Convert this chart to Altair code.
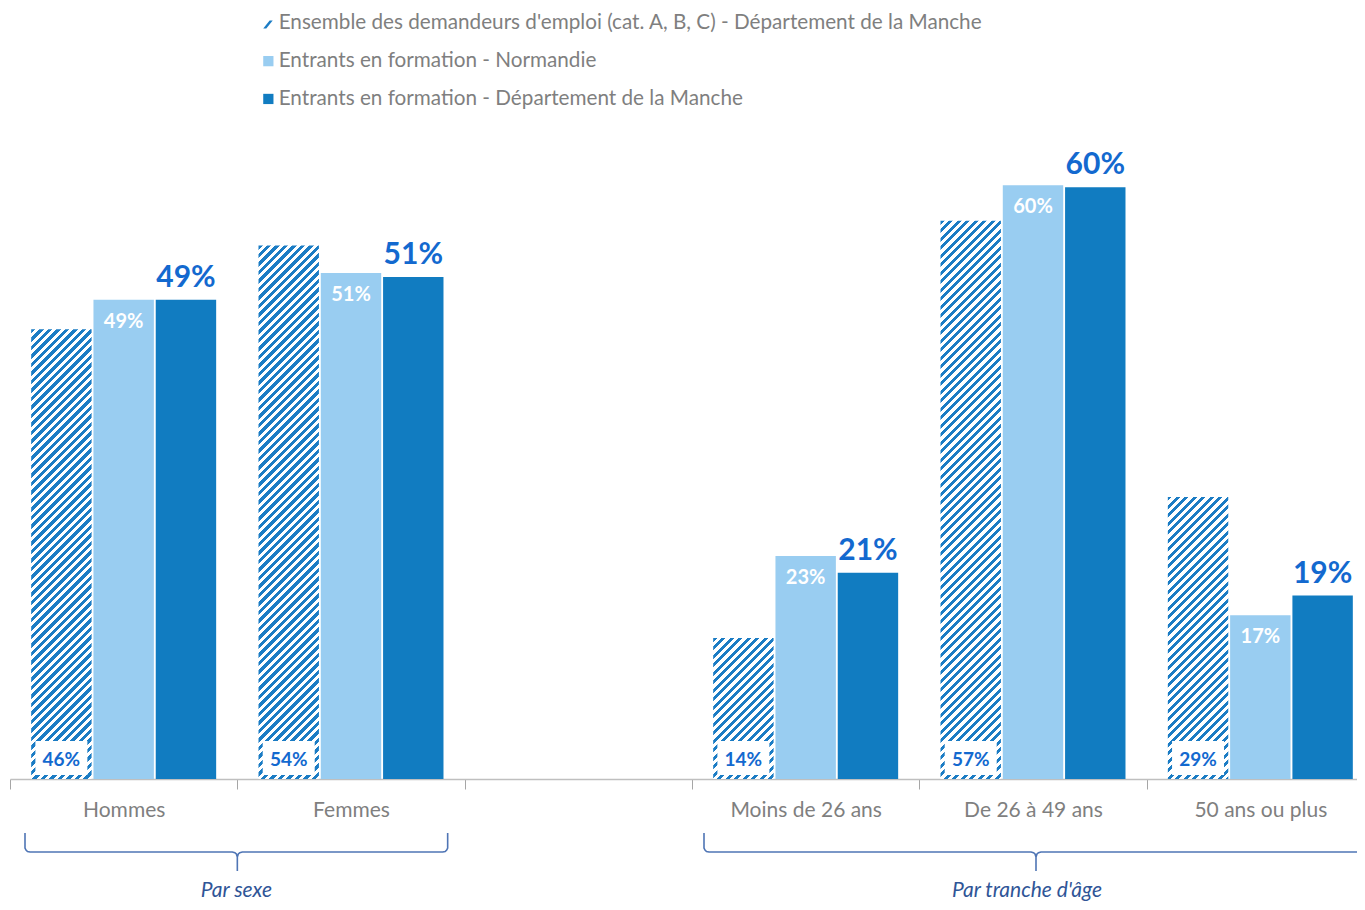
import altair as alt
import pandas as pd

# ---------------- data ----------------
categories = ["Hommes", "Femmes", " ", "Moins de 26 ans", "De 26 à 49 ans", "50 ans ou plus"]
groups = ["Hommes", "Femmes", "Moins de 26 ans", "De 26 à 49 ans", "50 ans ou plus"]
series = [
    "Ensemble des demandeurs d'emploi (cat. A, B, C) - Département de la Manche",
    "Entrants en formation - Normandie",
    "Entrants en formation - Département de la Manche",
]
ensemble = [45.6, 54.1, 14.3, 56.6, 28.6]
normandie = [48.6, 51.3, 22.6, 60.2, 16.6]
manche = [48.6, 50.9, 20.9, 60.0, 18.6]
group_labels = ["Par sexe", "Par tranche d'âge"]

# ---------------- style ----------------
FONT = "Lato"
HATCH_BLUE = "#1b7cc4"
LIGHT = "#99cdf1"
DARK = "#117cc1"
LABEL_BLUE = "#1369cf"
GRAY = "#7f7f7f"
BRACE = "#4f75b5"
GROUP_TXT = "#2f5597"

W_VIEW = 1347           # visible plot width (page ends at the window edge)
W = 1364                # x scale range (last band runs past the window edge)
H = 651
YMAX = 66
BAND = W / 6
PI, PO = 0.03, 0.34
STEP = BAND / (3 - PI + 2 * PO)
BARW = STEP * (1 - PI)
PERIOD = 8.5     # horizontal stripe period (px)
BLUE_FRAC = 0.5

rows = []
for s, vals in zip(series, [ensemble, normandie, manche]):
    for g, v in zip(groups, vals):
        rows.append({"cat": g, "series": s, "value": v})
df = pd.DataFrame(rows)

x_enc = alt.X(
    "cat:N",
    scale=alt.Scale(domain=categories, paddingInner=0, paddingOuter=0, range=[0, W]),
    axis=alt.Axis(
        title=None, labelAngle=0, labelFont=FONT, labelFontSize=21, labelColor=GRAY,
        domainColor="#bfbfbf", domainWidth=1.3, tickColor="#a6a6a6", tickSize=10,
        tickBand="extent", labelPadding=10,
    ),
)
xo_enc = alt.XOffset("series:N", scale=alt.Scale(domain=series, paddingInner=PI, paddingOuter=PO))
y_enc = alt.Y("value:Q", scale=alt.Scale(domain=[0, YMAX], nice=False), axis=None)

base = alt.Chart(df).transform_calculate(
    label="format(datum.value, '.0f') + '%'"
)

# legend (invisible points carrying the colour/shape legend)
SHAPES = ["M-1,1L0.25,-0.55L0.85,-0.55L-0.4,1Z", "square", "square"]
leg = alt.Legend(
    title=None, orient="none", legendX=248, legendY=-115, symbolOpacity=1,
    labelFont=FONT, labelFontSize=20.7, labelColor=GRAY, symbolSize=105,
    symbolStrokeWidth=0, rowPadding=15.8, labelOffset=0, labelLimit=1000,
)
legend_layer = base.mark_point(filled=True, opacity=0).encode(
    x=x_enc, xOffset=xo_enc, y=y_enc,
    color=alt.Color("series:N", scale=alt.Scale(domain=series, range=[HATCH_BLUE, LIGHT, DARK]), legend=leg),
    shape=alt.Shape("series:N", scale=alt.Scale(domain=series, range=SHAPES), legend=leg),
)

light_bars = base.transform_filter(alt.datum.series == series[1]).mark_bar(color=LIGHT).encode(
    x=x_enc, xOffset=xo_enc, y=y_enc)
dark_bars = base.transform_filter(alt.datum.series == series[2]).mark_bar(color=DARK).encode(
    x=x_enc, xOffset=xo_enc, y=y_enc)


def hatch(h):
    w = BARW
    k = (w + h) * w / (w * w + h * h)
    n = int((w + h) / PERIOD) + 2
    d = PERIOD / (w + h)
    stops = []
    for i in range(n):
        a = i * d
        b = a + BLUE_FRAC * d
        c = a + d
        if a > 1:
            break
        stops += [
            alt.GradientStop(offset=min(a, 1), color=HATCH_BLUE),
            alt.GradientStop(offset=min(b, 1), color=HATCH_BLUE),
            alt.GradientStop(offset=min(b, 1), color="white"),
            alt.GradientStop(offset=min(c, 1), color="white"),
        ]
    return alt.LinearGradient(gradient="linear", stops=stops, x1=0, y1=0, x2=k, y2=k * h / w)


hatched_layers = []
for g, v in zip(groups, ensemble):
    hpx = v / YMAX * H
    hatched_layers.append(
        base.transform_filter((alt.datum.series == series[0]) & (alt.datum.cat == g))
        .mark_bar(fill=hatch(hpx))
        .encode(x=x_enc, xOffset=xo_enc, y=y_enc)
    )

boxes = base.transform_filter(alt.datum.series == series[0]).mark_bar(color="white", width=52).encode(
    x=x_enc, xOffset=xo_enc, y=alt.value(H - 38), y2=alt.value(H - 4))
ens_txt = base.transform_filter(alt.datum.series == series[0]).mark_text(
    font=FONT, fontSize=19, fontWeight="bold", color=LABEL_BLUE, baseline="middle").encode(
    x=x_enc, xOffset=xo_enc, y=alt.value(H - 19), text="label:N")
nor_txt = base.transform_filter(alt.datum.series == series[1]).mark_text(
    font=FONT, fontSize=20, fontWeight="bold", color="white", baseline="middle", dy=22).encode(
    x=x_enc, xOffset=xo_enc, y=y_enc, text="label:N")
man_txt = base.transform_filter(alt.datum.series == series[2]).mark_text(
    font=FONT, fontSize=30, fontWeight="bold", color=LABEL_BLUE, baseline="alphabetic", dy=-13).encode(
    x=x_enc, xOffset=xo_enc, y=y_enc, text="label:N")

inner = alt.layer(legend_layer, light_bars, dark_bars, *hatched_layers, boxes, ens_txt, nor_txt, man_txt)

# ---------------- braces (annotation, pixel space) ----------------
b1l, b1c, b1r = 15, BAND, 2 * BAND - 17
b2l, b2c, b2r = 3 * BAND + 12, 4.5 * BAND + 3, W + 10
TOP, HOR, TIP = 705, 724, 743
brace_rows = []
for bi, (l, c, r) in enumerate([(b1l, b1c, b1r), (b2l, b2c, b2r)]):
    pts = [(l, TOP), (l, HOR - 4), (l + 1, HOR - 2), (l + 2.5, HOR - 0.5), (l + 5, HOR),
           (c - 5, HOR), (c - 2.5, HOR + 0.7), (c - 1, HOR + 2), (c, HOR + 5), (c, TIP),
           (c, HOR + 5), (c + 1, HOR + 2), (c + 2.5, HOR + 0.7), (c + 5, HOR)]
    if bi == 0:
        pts += [(r - 5, HOR), (r - 2.5, HOR - 0.5), (r - 1, HOR - 2), (r, HOR - 4), (r, TOP)]
    else:
        pts += [(r, HOR)]
    for i, (px, py) in enumerate(pts):
        brace_rows.append({"brace": bi, "i": i, "px": px, "py": py})
brace_df = pd.DataFrame(brace_rows)

brace = alt.Chart(brace_df).mark_line(color=BRACE, strokeWidth=1.6).encode(
    x=alt.X("px:Q", scale=None, axis=None),
    y=alt.Y("py:Q", scale=None, axis=None),
    detail="brace:N", order="i:Q")

grp_df = pd.DataFrame({"txt": group_labels, "px": [b1c - 1, b2c - 9], "py": [769, 769]})
grp = alt.Chart(grp_df).mark_text(
    font=FONT, fontSize=21, fontStyle="italic", color=GROUP_TXT, baseline="alphabetic").encode(
    x=alt.X("px:Q", scale=None, axis=None), y=alt.Y("py:Q", scale=None, axis=None), text="txt:N")

chart = alt.layer(inner, brace, grp).resolve_scale(x="independent", y="independent").properties(
    width=W_VIEW, height=H,
    padding={"left": 2, "top": 120, "right": 0, "bottom": 123},
    autosize=alt.AutoSizeParams(type="none"),
).configure_view(stroke=None)

chart.save("out.html", embed_options={"renderer": "svg", "actions": False})
